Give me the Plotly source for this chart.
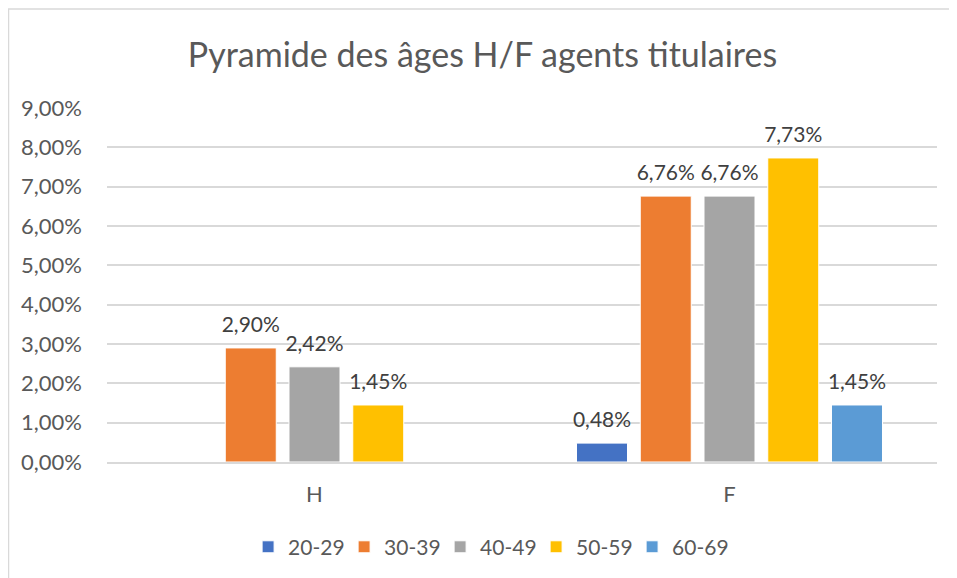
import plotly.graph_objects as go

categories = ["H", "F"]
series_names = ["20-29", "30-39", "40-49", "50-59", "60-69"]
values_20_29 = [None, 0.0048]
values_30_39 = [0.0290, 0.0676]
values_40_49 = [0.0242, 0.0676]
values_50_59 = [0.0145, 0.0773]
values_60_69 = [None, 0.0145]
colors = ["#4472C4", "#ED7D31", "#A5A5A5", "#FFC000", "#5B9BD5"]

all_values = [values_20_29, values_30_39, values_40_49, values_50_59, values_60_69]

def fmt(v):
    if v is None:
        return ""
    return f"{v*100:.2f}%".replace(".", ",")

FONT = "Lato, Carlito, Calibri, sans-serif"

fig = go.Figure()
for name, vals, col in zip(series_names, all_values, colors):
    fig.add_trace(go.Bar(
        name=name, x=categories, y=vals, offsetgroup=name,
        marker=dict(color=col, line=dict(color="white", width=1)),
    ))
for name, vals in zip(series_names, all_values):
    fig.add_trace(go.Scatter(
        name=name, x=categories, y=vals, offsetgroup=name,
        mode="markers+text", showlegend=False, hoverinfo="skip",
        marker=dict(size=16, opacity=0, color="white"),
        text=[fmt(v) for v in vals], textposition="top center",
        textfont=dict(family=FONT, size=21, color="#404040"),
        cliponaxis=False,
    ))

fig.update_layout(
    width=949, height=570,
    margin=dict(l=99, r=20, t=100, b=115),
    paper_bgcolor="white", plot_bgcolor="white",
    barmode="group", bargap=0.232, bargroupgap=0.2,
    scattermode="group", scattergap=0.232,
    separators=", ",
    title=dict(text="Pyramide des âges H/F agents titulaires",
               x=0.5, xanchor="center", y=0.917, yanchor="middle",
               font=dict(family=FONT, size=34, color="#595959")),
    font=dict(family=FONT, color="#595959"),
    showlegend=True,
    legend=dict(orientation="h", x=0.170, xanchor="left", y=-0.237, yanchor="middle",
                font=dict(family=FONT, size=21, color="#595959"),
                itemwidth=30, entrywidth=51, entrywidthmode="pixels",
                traceorder="normal"),
    xaxis=dict(showgrid=False, showline=True, linecolor="#D9D9D9", linewidth=2,
               ticks="", tickfont=dict(family=FONT, size=22, color="#595959"),
               ticklabelstandoff=12),
    yaxis=dict(range=[0, 0.09], dtick=0.01, tickformat=".2%",
               showgrid=True, gridcolor="#D9D9D9", gridwidth=1.5,
               zeroline=False, showline=False, ticks="",
               tickfont=dict(family=FONT, size=22, color="#595959"),
               ticklabelstandoff=24),
)

fig.add_shape(type="rect", xref="paper", yref="paper",
              x0=(0.5-99)/830, x1=(965-99)/830,
              y0=(455-600)/355, y1=(455-0.8)/355,
              line=dict(color="#D9D9D9", width=1.5), fillcolor="rgba(0,0,0,0)",
              layer="below")

fig.write_html("out.html")
